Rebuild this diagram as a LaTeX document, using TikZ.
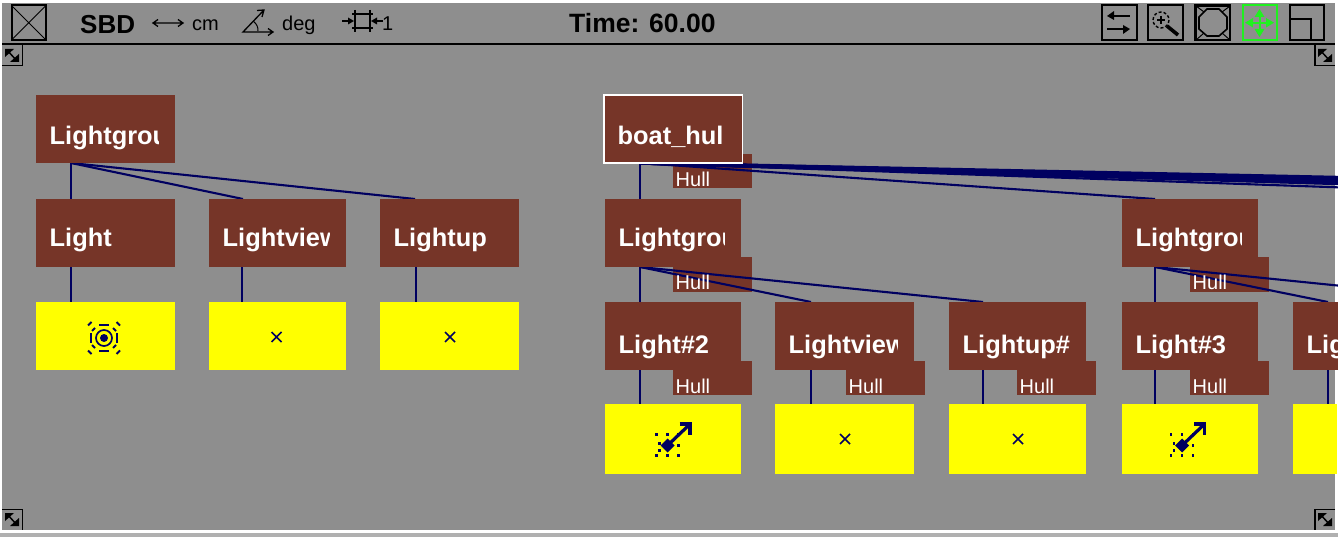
\documentclass[tikz,border=0pt]{standalone}
\usepackage{fontspec}
\setmainfont{Liberation Sans}
\definecolor{wingray}{RGB}{142,142,142}
\definecolor{brownbox}{RGB}{118,53,40}
\definecolor{linknavy}{RGB}{0,0,96}
\definecolor{icongreen}{RGB}{32,240,32}
\definecolor{boxyellow}{RGB}{255,255,0}
\pgfdeclarelayer{bgl}\pgfdeclarelayer{lnl}\pgfdeclarelayer{frl}
\pgfsetlayers{bgl,lnl,main,frl}
\tikzset{
 bbox/.style={fill=brownbox,draw=none,inner sep=0pt,anchor=north west},
 ybox/.style={fill=boxyellow,draw=none,inner sep=0pt,anchor=north west},
 blabel/.style={text=white,font=\fontsize{25.4}{25.4}\selectfont\bfseries,inner sep=0pt,anchor=base west},
 hlabel/.style={text=white,font=\fontsize{20}{20}\selectfont,inner sep=0pt,anchor=base west},
 conn/.style={draw=linknavy,line width=2.3pt},
 fan/.style={draw=linknavy,line width=2.1pt},
 band/.style={draw=linknavy,line width=3.4pt},
 tbar/.style={font=\fontsize{20}{20}\selectfont,text=black,inner sep=0pt,anchor=base west},
 tbold/.style={font=\fontsize{25}{25}\selectfont\bfseries,text=black,inner sep=0pt,anchor=base west},
 ibox/.style={draw=black,line width=2pt},
 ic/.style={draw=black,line width=1.3pt},
 nv/.style={draw=linknavy,line width=1.5pt},
}
% name x1 y1 x2 y2 portx baseline text
\newcommand\bx[8]{%
 \pgfmathsetmacro\bw{#4-#2}\pgfmathsetmacro\bh{#5-#3}%
 \node[bbox,minimum width=\bw pt,minimum height=\bh pt] (#1) at (#2,#3) {};
 \coordinate (#1-t) at (#6,#3);\coordinate (#1-b) at (#6,#5);
 \begin{scope}\clip (#2,#3) rectangle ({#4-17},#5);
 \node[blabel] (#1-l) at ({#2+13.5},#7) {#8};
 \end{scope}}
\newcommand\yb[6]{%
 \pgfmathsetmacro\bw{#4-#2}\pgfmathsetmacro\bh{#5-#3}%
 \node[ybox,minimum width=\bw pt,minimum height=\bh pt] (#1) at (#2,#3) {};
 \coordinate (#1-t) at (#6,#3);}
% name x y
\newcommand\tab[3]{%
 \begin{pgfonlayer}{bgl}
 \fill[brownbox] (#2,#3) rectangle ({#2+79},{#3+34.5});
 \end{pgfonlayer}
 \begin{pgfonlayer}{frl}
 \node[hlabel] (#1) at ({#2+2.5},{#3+33}) {Hull};
 \end{pgfonlayer}}
\newcommand\cn[2]{\begin{pgfonlayer}{lnl}\draw[conn] (#1) -- (#2);\end{pgfonlayer}}
\newcommand\fn[2]{\begin{pgfonlayer}{lnl}\draw[fan] (#1) -- (#2);\end{pgfonlayer}}
\newcommand\xm[2]{\draw[nv] ({#1-5},{#2-5}) -- ({#1+5},{#2+5}) ({#1-5},{#2+5}) -- ({#1+5},{#2-5});}
\newcommand\arrowicon[2]{%
 \begin{scope}[shift={(#1,#2)}]
 \fill[linknavy] (-7,0) -- (0,-7) -- (7,0) -- (0,7) -- cycle;
 \draw[linknavy,line width=3.2pt] (0,0) -- (21,-20);
 \draw[linknavy,line width=3.2pt] (12,-21.5) -- (22.5,-21.5) -- (22.5,-11);
 \foreach \px/\py in {-11/-11,0/-11,11/-11,-8/-2,11/0,-8/5,-11/10,0/10,11/10}
   \fill[linknavy] (\px-1.2,\py-1.2) rectangle (\px+1.2,\py+1.2);
 \end{scope}}
\newcommand\corner[4]{% x1 y1 x2 y2
 \draw[black,line width=1.5pt] (#1,#2) ++(5,4) -- ++(10,11);
 \fill[black] (#1,#2) ++(3,3) -- ++(9,0) -- ++(-9,8) -- cycle;
 \fill[black] (#3,#4) ++(-3,-3) -- ++(-9,0) -- ++(9,-8) -- cycle;}
\begin{document}
\begin{tikzpicture}[x=1pt,y=-1pt]
\useasboundingbox (0,0) rectangle (1338,537);
\begin{pgfonlayer}{bgl}
\fill[white] (0,0) rectangle (1338,537);
\fill[wingray] (2,3) rectangle (1335,530);
\fill[wingray!70!white] (0,533) rectangle (1338,537);
\end{pgfonlayer}
% left tree
\bx{lg}{36}{95}{175}{163}{71}{145}{Lightgrou}
\bx{la}{36}{199}{175}{267}{71}{247}{Light}
\bx{lv}{209}{199}{346}{267}{242}{247}{Lightview}
\bx{lu}{380}{199}{519}{267}{416}{247}{Lightup}
\yb{ya}{36}{302}{175}{370}{71}
\yb{yv}{209}{302}{346}{370}{242}
\yb{yu}{380}{302}{519}{370}{416}
\coordinate (lvs) at (243,199);\coordinate (lus) at (415,199);
\cn{lg-b}{la-t}\cn{la-b}{ya-t}\cn{lv-b}{yv-t}\cn{lu-b}{yu-t}
\fn{lg-b}{lvs}\fn{lg-b}{lus}
% right tree
\tab{h0}{673}{154}
\tab{h1}{673}{257}
\tab{h2}{673}{360.5}
\tab{h3}{846}{360.5}
\tab{h4}{1017}{360.5}
\tab{h5}{1190}{257}
\tab{h6}{1190}{360.5}
\bx{bh}{604}{95}{742}{163}{640}{145}{boat\_hul}
\draw[white,line width=1.8pt] (bh.north west) rectangle (bh.south east);
\bx{g1}{605}{199}{741}{267}{640}{247}{Lightgrou}
\bx{g2}{1122}{199}{1258}{267}{1155}{247}{Lightgrou}
\bx{a2}{605}{302}{741}{370}{640}{353}{Light\#2}
\bx{v2}{775}{302}{914}{370}{811}{353}{Lightview}
\bx{u2}{949}{302}{1086}{370}{983}{353}{Lightup\#}
\bx{a3}{1122}{302}{1258}{370}{1155}{353}{Light\#3}
\bx{a4}{1293}{302}{1354}{370}{1328}{353}{Lig}
\yb{y1}{605}{404}{741}{474}{640}
\yb{y2}{775}{404}{914}{474}{811}
\yb{y3}{949}{404}{1086}{474}{983}
\yb{y4}{1122}{404}{1258}{474}{1155}
\yb{y5}{1293}{404}{1337}{474}{1328}
\cn{bh-b}{g1-t}\cn{g1-b}{a2-t}\cn{a2-b}{y1-t}\cn{v2-b}{y2-t}\cn{u2-b}{y3-t}\cn{g2-b}{a3-t}\cn{a3-b}{y4-t}\cn{a4-b}{y5-t}
\fn{g1-b}{v2-t}\fn{g1-b}{u2-t}\fn{g2-b}{a4-t}
\coordinate (far6) at (1500,302);
\fn{g2-b}{far6}
\fn{bh-b}{g2-t}
\coordinate (far0) at (1672,199);
\fn{bh-b}{far0}
\foreach \n/\yy in {1/177.5,2/179,3/180.5,4/182,5/183.5}{
 \coordinate (far\n) at (1338,\yy);
 \begin{pgfonlayer}{lnl}\draw[band] (bh-b) -- (far\n);\end{pgfonlayer}
}
% yellow icons
\xm{276.5}{337}\xm{450}{337}\xm{845}{439}\xm{1018}{439}
\arrowicon{667.5}{445.5}\arrowicon{1182}{445.5}
\begin{scope}[shift={(104,338)}]
 \fill[linknavy] (0,0) circle (4);
 \draw[nv,line width=1.7pt] (0,0) circle (8);
 \draw[nv,line width=1.8pt] (-5,-13) -- (5,-13) (-5,13) -- (5,13) (-13,-5) -- (-13,5) (13,-5) -- (13,5);
 \foreach \sx in {-1,1}\foreach \sy in {-1,1}{
  \draw[nv,line width=1.8pt] (\sx*9,\sy*10) -- (\sx*12,\sy*7) (\sx*12.5,\sy*16) -- (\sx*16,\sy*12.5);
 }
\end{scope}
% toolbar
\draw[black,line width=2pt] (2,43.7) -- (1335,43.7);
\draw[ibox] (11.5,5.5) rectangle (46,40);
\draw[black,line width=1pt] (11.5,5.5) -- (46,40) (11.5,40) -- (46,5.5);
\node[tbold,font=\fontsize{26}{26}\selectfont\bfseries] (sbd) at (80,34) {SBD};
\draw[ic] (154,23) -- (182,23) (158,19.5) -- (153,23) -- (158,26.5) (178,19.5) -- (183,23) -- (178,26.5);
\node[tbar] (cm) at (192,31) {cm};
\draw[ic] (264,10) -- (243,32) -- (272,32) (268,28.5) -- (273,32) -- (268,35.5) (257,10.5) -- (264,10) -- (262,17);
\draw[black,line width=1pt] (253,21) .. controls (257,24) and (258,27) .. (258,31);
\node[tbar] (deg) at (282,31) {deg};
\draw[ic,line width=1.6pt] (355,10) -- (355,32) (370,10) -- (370,32) (352,14) -- (373,14) (352,28) -- (373,28) (342,21) -- (352,21) (373,21) -- (383,21);
\fill[black] (354,21) -- (348,17.5) -- (348,24.5) -- cycle (371,21) -- (377,17.5) -- (377,24.5) -- cycle;
\node[tbar] (one) at (382,31) {1};
\node[tbold,font=\fontsize{26.5}{26.5}\selectfont\bfseries] (tm) at (569,33) {Time: 60.00};
% right icons
\draw[ibox] (1101.5,5.5) rectangle (1136.5,40);
\draw[black,line width=1.8pt] (1110,16) -- (1130,16) (1107,29) -- (1126,29);
\fill[black] (1107,16) -- (1114,11) -- (1114,20) -- cycle (1130,29) -- (1123,25) -- (1123,34) -- cycle;
\draw[ibox] (1148,5.5) rectangle (1183,40);
\draw[black,line width=1.4pt,densely dashed] (1161,20) circle (8);
\draw[black,line width=1.2pt] (1157,20) -- (1165,20) (1161,16) -- (1161,24);
\draw[black,line width=3.6pt] (1167,26) -- (1178,35);
\draw[ibox,line width=2.4pt] (1195.5,5.5) rectangle (1230,40);
\draw[black,line width=1.6pt] (1207,9) -- (1219,9) -- (1227,17) -- (1227,29) -- (1219,36) -- (1207,36) -- (1199,29) -- (1199,17) -- cycle;
\draw[black,line width=1pt] (1196,6) -- (1204,12) (1230,6) -- (1222,12) (1196,40) -- (1204,33) (1230,40) -- (1222,33);
\draw[icongreen,line width=2pt] (1242.5,5.5) rectangle (1277,40);
\draw[icongreen,line width=2pt] (1250,22.7) -- (1269,22.7) (1259.5,13) -- (1259.5,32);
\fill[icongreen] (1245,22.7) -- (1253,18) -- (1253,27.5) -- cycle (1274,22.7) -- (1266,18) -- (1266,27.5) -- cycle
 (1259.5,9) -- (1254.5,17) -- (1264.5,17) -- cycle (1259.5,37) -- (1254.5,29) -- (1264.5,29) -- cycle;
\draw[ibox] (1289.5,5.5) rectangle (1324,40);
\draw[black,line width=1.6pt] (1289.5,19) -- (1311,19) -- (1311,40);
% corner handles
\corner{2}{46}{22}{65}
\draw[black,line width=1.8pt] (22.5,45) -- (22.5,65.5) -- (2,65.5);
\corner{1315}{46}{1335}{65}
\draw[black,line width=1.8pt] (1315,45) -- (1315,65.5) -- (1335,65.5);
\corner{2}{510}{22}{529}
\draw[black,line width=1.8pt] (2,509.5) -- (22.5,509.5) -- (22.5,530);
\corner{1315}{510}{1335}{529}
\draw[black,line width=1.8pt] (1335,509.5) -- (1315,509.5) -- (1315,530);
\end{tikzpicture}
\end{document}
